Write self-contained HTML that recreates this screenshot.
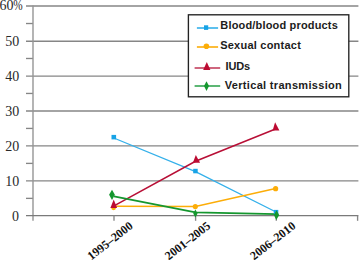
<!DOCTYPE html>
<html><head><meta charset="utf-8"><style>
html,body{margin:0;padding:0;background:#fff;width:359px;height:260px;overflow:hidden}
svg{display:block}
.yl{font-family:"Liberation Serif",serif;font-size:14px;fill:#2a2a2a}
.xl{font-family:"Liberation Serif",serif;font-size:12px;fill:#111;font-weight:bold}
.lg{font-family:"Liberation Sans",sans-serif;font-size:11px;font-weight:bold;fill:#1c1c1c}
</style></head><body>
<svg width="359" height="260" viewBox="0 0 359 260">
<rect width="359" height="260" fill="#fff"/>
<line x1="26" y1="180.85" x2="358.4" y2="180.85" stroke="#868686" stroke-width="1.35"/>
<line x1="26" y1="145.90" x2="358.4" y2="145.90" stroke="#868686" stroke-width="1.35"/>
<line x1="26" y1="110.95" x2="358.4" y2="110.95" stroke="#868686" stroke-width="1.35"/>
<line x1="26" y1="76.10" x2="358.4" y2="76.10" stroke="#868686" stroke-width="1.35"/>
<line x1="26" y1="41.20" x2="358.4" y2="41.20" stroke="#868686" stroke-width="1.35"/>
<line x1="26" y1="6.00" x2="358.4" y2="6.00" stroke="#868686" stroke-width="1.35"/>
<line x1="26" y1="198.37" x2="33" y2="198.37" stroke="#868686" stroke-width="1.35"/>
<line x1="26" y1="163.39" x2="33" y2="163.39" stroke="#868686" stroke-width="1.35"/>
<line x1="26" y1="128.43" x2="33" y2="128.43" stroke="#868686" stroke-width="1.35"/>
<line x1="26" y1="93.45" x2="33" y2="93.45" stroke="#868686" stroke-width="1.35"/>
<line x1="26" y1="58.48" x2="33" y2="58.48" stroke="#868686" stroke-width="1.35"/>
<line x1="26" y1="23.52" x2="33" y2="23.52" stroke="#868686" stroke-width="1.35"/>
<line x1="33" y1="5.5" x2="33" y2="220.8" stroke="#959595" stroke-width="1.4"/>
<line x1="26" y1="215.6" x2="358.4" y2="215.6" stroke="#7a7a7a" stroke-width="1.35"/>
<line x1="114.0" y1="215.6" x2="114.0" y2="220.8" stroke="#868686" stroke-width="1.35"/>
<line x1="195.6" y1="215.6" x2="195.6" y2="220.8" stroke="#868686" stroke-width="1.35"/>
<line x1="276.3" y1="215.6" x2="276.3" y2="220.8" stroke="#868686" stroke-width="1.35"/>
<line x1="357.6" y1="215.6" x2="357.6" y2="220.8" stroke="#868686" stroke-width="1.35"/>
<g class="yl">
<text x="13.4" y="10" text-anchor="end">60</text><text x="13.2" y="10" textLength="9.4" lengthAdjust="spacingAndGlyphs">%</text>
<text x="19.2" y="46.00" text-anchor="end">50</text>
<text x="19.2" y="80.97" text-anchor="end">40</text>
<text x="19.2" y="115.94" text-anchor="end">30</text>
<text x="19.2" y="150.91" text-anchor="end">20</text>
<text x="19.2" y="185.88" text-anchor="end">10</text>
<text x="19" y="220.85" text-anchor="end">0</text>
</g>
<g class="xl">
<text transform="translate(133.8,227.3) rotate(-38)" text-anchor="end">1995–2000</text>
<text transform="translate(211.3,227.3) rotate(-38)" text-anchor="end">2001–2005</text>
<text transform="translate(296.5,227.3) rotate(-38)" text-anchor="end">2006–2010</text>
</g>
<!-- series lines -->
<polyline points="113.8,138 195.5,171.6 276,212" fill="none" stroke="#34b0ea" stroke-width="1.3"/>
<polyline points="114,206.2 195.5,206.4 275.6,188.6" fill="none" stroke="#fcad08" stroke-width="1.5"/>
<polyline points="114,205.9 195.5,161.3 275.5,129" fill="none" stroke="#b80f36" stroke-width="1.5"/>
<polyline points="114,196.4 195.5,212.3 276,214.2" fill="none" stroke="#15972f" stroke-width="1.8"/>
<!-- markers blue squares -->
<rect x="111.5" y="134.9" width="4.6" height="4.5" fill="#18a3e6"/>
<rect x="193.2" y="168.8" width="4.5" height="4.5" fill="#18a3e6"/>
<rect x="273.8" y="209.9" width="4.5" height="4.5" fill="#18a3e6"/>
<!-- orange circles -->
<circle cx="113.6" cy="207.8" r="2.4" fill="#fcad08"/>
<circle cx="195.3" cy="206.6" r="2.6" fill="#fcad08"/>
<circle cx="275.6" cy="188.7" r="2.6" fill="#fcad08"/>
<!-- red triangles -->
<polygon points="113.7,199.6 117.1,208 110.4,208" fill="#bc0b32"/>
<polygon points="195.8,154.9 200.1,162.7 192.9,162.7" fill="#bc0b32"/>
<polygon points="275.1,122.3 279.4,130.4 272.6,130.4" fill="#bc0b32"/>
<!-- green diamonds -->
<polygon points="112,189.7 114.9,194.8 112,199.9 109.1,194.8" fill="#15972f"/>
<polygon points="195.4,209.4 197.6,213.5 195.4,217.6 193.2,213.5" fill="#15972f"/>
<polygon points="276.5,210.2 279.2,215.1 276.3,220 273.9,215.1" fill="#15972f"/>
<!-- legend -->
<rect x="188.4" y="14.8" width="160.4" height="82" fill="#fff" stroke="#222" stroke-width="1.35"/>
<line x1="196.9" y1="28" x2="218.1" y2="28" stroke="#34b0ea" stroke-width="1.6"/>
<rect x="204" y="25.3" width="4.2" height="4.6" fill="#18a3e6"/>
<line x1="196.9" y1="47" x2="218.1" y2="47" stroke="#fcad08" stroke-width="1.6"/>
<circle cx="206.4" cy="46.3" r="2.8" fill="#fcad08"/>
<line x1="194.6" y1="68" x2="220.2" y2="68" stroke="#c4405e" stroke-width="1.6"/>
<polygon points="206.8,62 210.4,69.9 203.2,69.9" fill="#bc0b32"/>
<line x1="194.6" y1="86" x2="220.2" y2="86" stroke="#35a552" stroke-width="1.6"/>
<polygon points="206.5,81.2 209,86.1 206.5,91 204,86.1" fill="#15972f"/>
<g class="lg">
<text x="220.3" y="28.5" textLength="117.5" lengthAdjust="spacing">Blood/blood products</text>
<text x="220.2" y="49.4" textLength="80.6" lengthAdjust="spacing">Sexual contact</text>
<text x="225.6" y="70" textLength="24.6" lengthAdjust="spacing">IUDs</text>
<text x="224.8" y="89" textLength="117" lengthAdjust="spacing">Vertical transmission</text>
</g>
</svg>
</body></html>
